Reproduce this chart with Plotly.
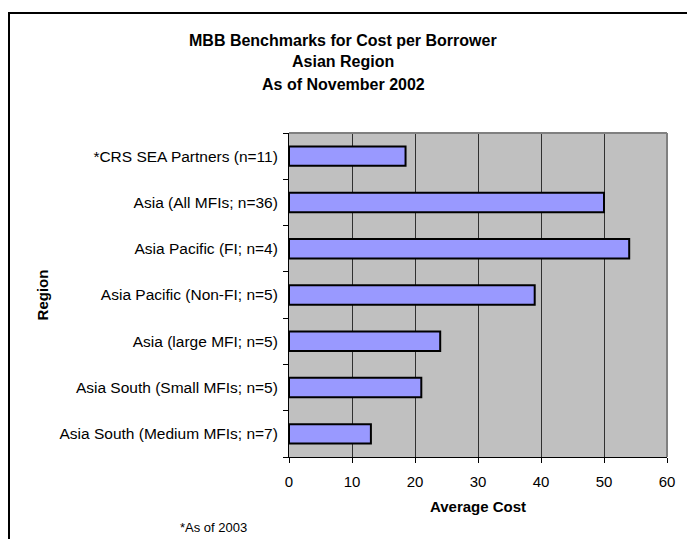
import plotly.graph_objects as go

# Benchmark data: average cost per borrower by region group
regions = [
    "*CRS SEA Partners (n=11)",
    "Asia (All MFIs; n=36)",
    "Asia Pacific (FI; n=4)",
    "Asia Pacific (Non-FI; n=5)",
    "Asia (large MFI; n=5)",
    "Asia South (Small MFIs; n=5)",
    "Asia South (Medium MFIs; n=7)",
]
avg_cost = [18.5, 50, 54, 39, 24, 21, 13]

x_ticks = [0, 10, 20, 30, 40, 50, 60]
title_lines = ["MBB Benchmarks for Cost per Borrower", "Asian Region", "As of November 2002"]
footnote = "*As of 2003"

FONT = "Liberation Sans, Arial, sans-serif"

fig = go.Figure(
    go.Bar(
        x=avg_cost,
        y=regions,
        orientation="h",
        width=0.42,
        marker=dict(color="#9999FF", line=dict(color="#000000", width=2)),
        hoverinfo="x+y",
    )
)

fig.update_layout(
    width=687,
    height=539,
    margin=dict(l=289, r=20, t=133, b=82),
    paper_bgcolor="#FFFFFF",
    plot_bgcolor="#C0C0C0",
    font=dict(family=FONT, size=15, color="#000000"),
    showlegend=False,
    xaxis=dict(
        range=[0, 60],
        tickvals=x_ticks,
        ticks="outside",
        ticklen=5,
        tickcolor="#000000",
        showline=True,
        linecolor="#000000",
        linewidth=1,
        showgrid=True,
        gridcolor="#303030",
        gridwidth=1,
        zeroline=False,
        tickfont=dict(size=15),
        ticklabelstandoff=6,
        title=dict(text="<b>Average Cost</b>", font=dict(size=15), standoff=12),
    ),
    yaxis=dict(
        categoryorder="array",
        categoryarray=regions[::-1],
        tickson="boundaries",
        ticks="outside",
        ticklen=5,
        tickcolor="#000000",
        showline=True,
        linecolor="#000000",
        linewidth=1,
        showgrid=False,
        zeroline=False,
        ticklabelstandoff=7,
        tickfont=dict(size=15.5),
        title=dict(text="<b>Region</b>", font=dict(size=15), standoff=7),
    ),
)

# Plot-area frame on top and right edges
fig.add_shape(type="line", xref="x domain", yref="y domain", x0=0, x1=1, y0=1, y1=1,
              line=dict(color="#808080", width=2))
fig.add_shape(type="line", xref="x domain", yref="y domain", x0=1, x1=1, y0=0, y1=1,
              line=dict(color="#808080", width=2))

# Outer chart border
fig.add_shape(type="rect", xref="paper", yref="paper",
              x0=(9 - 289) / 378, x1=2.0, y0=-1.0, y1=(457 - 13) / 324,
              line=dict(color="#000000", width=2), layer="below")

# Title lines
for i, line in enumerate(title_lines):
    fig.add_annotation(
        text=f"<b>{line}</b>", xref="paper", yref="paper",
        x=(343 - 289) / 378, y=(457 - (40 + 22 * i)) / 324,
        showarrow=False, xanchor="center", yanchor="middle",
        font=dict(size=16, family=FONT),
    )

# Footnote
fig.add_annotation(
    text=footnote, xref="paper", yref="paper",
    x=(178 - 289) / 378, y=(457 - 527) / 324,
    showarrow=False, xanchor="left", yanchor="middle",
    font=dict(size=13, family=FONT),
)

fig.write_html("out.html")
